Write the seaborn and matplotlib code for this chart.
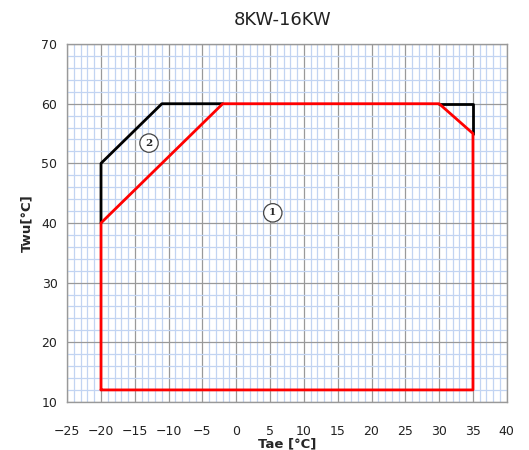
import numpy as np
import pandas as pd
import matplotlib
matplotlib.use("Agg")
import matplotlib.pyplot as plt
import seaborn as sns

# Data
red_x = [-20, 35, 35, 30, -2, -20, -20]
red_y = [12, 12, 55, 60, 60, 40, 12]
black_x = [-20, -20, -11, -2]
black_y = [40, 50, 60, 60]
black2_x = [30, 35, 35]
black2_y = [60, 60, 55]
labels = ["1", "2"]
label_x = [5.4, -12.9]
label_y = [41.7, 53.4]
x_ticks = list(range(-25, 41, 5))
y_ticks = list(range(10, 71, 10))

sns.set_style("white")
plt.rcParams['font.family'] = ['DejaVu Sans']

fig = plt.figure(figsize=(5.29, 4.5), dpi=100)
ax = fig.add_axes([0.127, 0.107, 0.831, 0.795])

# grid
ax.set_xlim(-25, 40)
ax.set_ylim(10, 70)
ax.set_xticks(x_ticks)
ax.set_yticks(y_ticks)
ax.set_xticks(np.arange(-25, 41, 1), minor=True)
ax.set_yticks(np.arange(10, 71, 2), minor=True)
ax.grid(which='minor', color='#c2d4f2', linewidth=0.9, zorder=0)
ax.grid(which='major', color='#999999', linewidth=0.9, zorder=1)
ax.set_axisbelow(True)
ax.tick_params(which='minor', length=0)
ax.tick_params(which='major', length=4, color='#999999', labelsize=9,
               labelcolor='#222222')
ax.tick_params(axis='x', pad=13)
ax.tick_params(axis='y', pad=3)
for s in ax.spines.values():
    s.set_color('#999999')
    s.set_linewidth(1.0)

df_red = pd.DataFrame({"x": red_x, "y": red_y})
df_b1 = pd.DataFrame({"x": black_x, "y": black_y})
df_b2 = pd.DataFrame({"x": black2_x, "y": black2_y})
sns.lineplot(data=df_b1, x="x", y="y", sort=False, estimator=None, errorbar=None,
             color='black', linewidth=2, ax=ax, zorder=3)
sns.lineplot(data=df_b2, x="x", y="y", sort=False, estimator=None, errorbar=None,
             color='black', linewidth=2, ax=ax, zorder=3)
sns.lineplot(data=df_red, x="x", y="y", sort=False, estimator=None, errorbar=None,
             color='#ff0000', linewidth=2, ax=ax, zorder=4)

for t, lx, ly in zip(labels, label_x, label_y):
    ax.text(lx, ly, t, ha='center', va='center', fontsize=7.5, fontweight='bold',
            family='DejaVu Serif', zorder=5,
            bbox=dict(boxstyle='circle,pad=0.45', fc='white', ec='#444444', lw=0.9))

ax.set_xlabel("Tae [°C]", fontsize=9.5, fontweight='bold', labelpad=-1)
ax.set_ylabel("Twu[°C]", fontsize=9.5, fontweight='bold', labelpad=6)
fig.text(0.535, 0.955, "8KW-16KW", ha='center', va='center', fontsize=13, color='#222222')

fig.savefig("out.png", dpi=100)
